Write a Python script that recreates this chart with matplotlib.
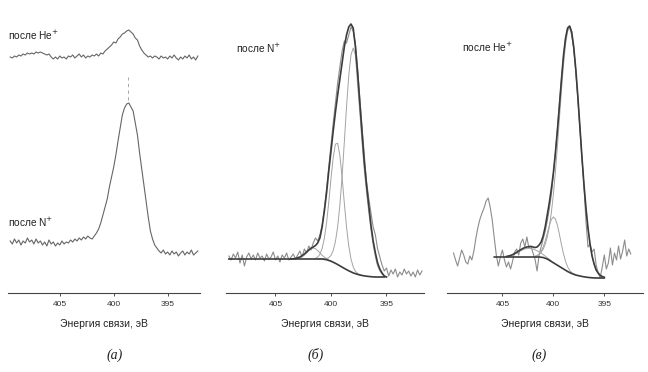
import numpy as np
import matplotlib
matplotlib.use("Agg")
import matplotlib.pyplot as plt

plt.rcParams['font.family'] = ['Liberation Sans', 'DejaVu Sans']

# ---- data (binding energy in eV, intensity in arb. units) ----
STEP = 0.2

# (a) raw N1s spectra, grid starts at 409.6 eV
a_start = 409.6
he_a = [49, 48, 50, 49, 51, 50, 52, 51, 53, 52,
        53, 52, 54, 53, 54, 53, 52, 51, 52, 49,
        47, 49, 47, 50, 48, 49, 47, 50, 49, 51,
        48, 50, 52, 49, 51, 48, 50, 49, 51, 50,
        52, 50, 53, 52, 55, 57, 59, 61, 64, 63,
        67, 69, 72, 73, 75, 76, 74, 72, 68, 66,
        60, 56, 53, 51, 49, 50, 48, 50, 49, 47,
        50, 48, 49, 47, 50, 48, 51, 48, 46, 49,
        47, 50, 48, 51, 47, 49, 46, 50]
n_a = [52, 49, 54, 50, 53, 48, 52, 50, 55, 51,
       53, 49, 54, 50, 52, 48, 51, 47, 53, 49,
       51, 47, 50, 48, 52, 49, 51, 50, 53, 51,
       54, 52, 55, 53, 56, 54, 57, 55, 54, 57,
       60, 64, 70, 78, 86, 94, 106, 116, 126, 138,
       152, 165, 178, 185, 189, 190, 186, 182, 170, 158,
       140, 124, 108, 92, 76, 62, 54, 48, 45, 42,
       40, 43, 39, 41, 38, 42, 39, 41, 37, 40,
       42, 38, 41, 39, 43, 38, 40, 42]
he_offset = 187
peak_a = 398.7

# (b) after N+ : raw, background, three components, envelope
raw_b_start = 409.2
raw_b = [37, 33, 39, 35, 41, 30, 38, 27, 36, 40,
         34, 38, 33, 40, 35, 37, 32, 39, 34, 36,
         41, 33, 37, 31, 38, 35, 40, 33, 36, 39,
         34, 38, 42, 36, 44, 40, 47, 43, 50, 55,
         52, 58, 68, 84, 104, 126, 148, 170, 190, 210,
         226, 242, 252, 250, 258, 266, 262, 250, 224, 194,
         166, 138, 112, 95, 80, 66, 58, 44, 36, 28,
         22, 25, 17, 23, 19, 24, 16, 21, 18, 24,
         19, 22, 17, 21, 16, 23, 18, 22]
bg_b_start = 409.2   # 0.4 eV grid
bg_b = [34, 34, 34, 34, 34, 34, 34, 34, 34, 34,
        34, 34, 34, 34, 34, 34, 34, 34, 34, 34,
        34, 34, 33.3, 31.8, 29.7, 27.2, 24.6, 22.2, 20.1, 18.6,
        17.5, 16.8, 16.3, 16, 16, 16]
c1_b_start = 403.2
c1_b = [34.2, 34.4, 35.0, 36.1, 37.8, 40.1, 42.4, 44.3, 45.0, 44.3,
        42.4, 40.1, 37.8, 35.9, 34.3, 33.0, 32.0]
c2_b_start = 401.4
c2_b = [34.7, 35.9, 38.7, 44.5, 54.5, 70.0, 90.8, 114.4, 135.7, 148.9,
        149.7, 137.5, 115.7, 90.0, 66.1, 47.1, 34.1, 26.2, 21.8, 19.6,
        18.3, 17.6]
c3_b_start = 401.2
c3_b = [34.0, 34.1, 34.2, 34.3, 34.4, 35.3, 37.6, 42.5, 51.5, 66.2,
        87.8, 116.6, 150.6, 186.1, 217.5, 238, 245, 238, 208, 180,
        150, 123, 101, 81, 63, 48, 36, 27, 22, 19,
        17, 16]
env_b_start = 403.6
env_b = [34, 34.2, 34.5, 35.2, 36, 37.4, 39, 41, 43, 44.8,
         46, 47.5, 50, 55, 66, 82, 100, 122, 142, 162,
         181, 198, 214, 230, 246, 258, 266, 269, 265, 246,
         220, 190, 160, 131, 108, 88, 68, 52, 40, 30,
         24, 20, 17, 16]

# (c) after He+
raw_c_start = 409.8
raw_c = [40, 33, 27, 35, 43, 38, 31, 29, 37, 33,
         42, 55, 66, 74, 80, 85, 92, 95, 86, 73,
         55, 38, 27, 36, 43, 33, 26, 31, 24, 32,
         41, 44, 38, 50, 54, 46, 56, 45, 47, 40,
         34, 22, 38, 46, 54, 62, 72, 84, 98, 118,
         140, 164, 190, 214, 236, 255, 264, 266, 258, 244,
         222, 195, 166, 136, 108, 72, 46, 49, 41, 44,
         28, 20, 15, 26, 38, 24, 30, 45, 28, 40,
         33, 47, 34, 42, 53, 37, 44, 39]
bg_c_start = 405.8   # 0.4 eV grid
bg_c = [36, 36, 36, 36, 36, 36, 36, 36, 36, 36,
        36, 36, 35.5, 34, 31.5, 29, 26.5, 24, 21.5, 19.5,
        18, 17, 16.2, 15.6, 15.2, 15, 15, 15]
c1_c_start = 404.6
c1_c = [36.5, 36.8, 37.3, 38.0, 38.9, 39.9, 41.1, 42.2, 43.2, 44.0,
        44.5, 44.7, 44.5, 44.0, 43.2, 42.2, 41.1, 39.7, 38.4, 36.9,
        35.3, 33.8, 32.0]
c2_c_start = 401.8
c2_c = [36.5, 37.2, 38.8, 41.5, 45.9, 52.2, 59.7, 67.3, 73.4, 76.0,
        74.0, 67.7, 58.4, 48.2, 39.0, 31.6, 26.1, 22.7, 20.4, 19.1,
        18.0]
c3_c_start = 401.8
c3_c = [36.7, 37.5, 38.7, 40.7, 43.8, 48.7, 55.8, 66.0, 80.0, 98.4,
        120.9, 147.0, 175.1, 203.1, 228.6, 249.0, 261.6, 265.5, 259.6, 244.9,
        222.6, 195.4, 165.6, 135.8, 108.1, 84.0, 64.1, 48.6, 37.0, 28.8,
        23.3, 19.9, 17.7, 16.5, 15.7]
env_c_start = 404.6
env_c = [36.5, 37, 37.5, 38.4, 39.5, 40.7, 42, 43.3, 44.5, 45.4,
         46, 46.4, 46.5, 46, 45.5, 46, 48, 51, 57, 66,
         78, 90, 104, 120, 140, 163, 188, 214, 238, 255,
         265, 267, 261, 246, 224, 197, 167, 137, 109, 85,
         65, 49, 37, 29, 23, 20, 17.7, 16.5, 15.7]

ticks = [405, 400, 395]
xlabel = 'Энергия связи, эВ'
letters = ['(а)', '(б)', '(в)']


def grid(start, vals, step=STEP):
    return start - step * np.arange(len(vals))


# ---- layout (pixel boxes of the original) ----
W, H = 648, 372
fig = plt.figure(figsize=(W / 100, H / 100), dpi=100)


def box(l, r, top=5, bottom=293):
    return [l / W, 1 - bottom / H, (r - l) / W, (bottom - top) / H]


ax_a = fig.add_axes(box(8, 200))
ax_b = fig.add_axes(box(226, 424))
ax_c = fig.add_axes(box(447, 643))

RAW = '#666666'
RAW_L = '#8c8c8c'
COMP = '#a3a3a3'
DARK = '#3c3c3c'

# (a)
ea = grid(a_start, n_a)
ax_a.plot(ea, np.array(he_a) + he_offset, color=RAW, lw=0.8)
ax_a.plot(ea, n_a, color=RAW, lw=0.8)
ax_a.vlines(peak_a, 193, 216, color='#9a9a9a', lw=0.6, linestyles=(0, (4, 4)))
ax_a.text(0.0, 258, 'после He$^{+}$', transform=ax_a.get_yaxis_transform(),
          fontsize=7.3, va='center', ha='left', color='#222')
ax_a.text(0.0, 71, 'после N$^{+}$', transform=ax_a.get_yaxis_transform(),
          fontsize=7.3, va='center', ha='left', color='#222')
ax_a.set_xlim(409.8, 392.0)

# (b)
ax_b.plot(grid(raw_b_start, raw_b), raw_b, color=RAW_L, lw=0.8)
for start, vals in [(c1_b_start, c1_b), (c2_b_start, c2_b), (c3_b_start, c3_b)]:
    ax_b.plot(grid(start, vals), vals, color=COMP, lw=0.7)
ax_b.plot(grid(bg_b_start, bg_b, 0.4), bg_b, color=DARK, lw=1.2)
ax_b.plot(grid(env_b_start, env_b), env_b, color=DARK, lw=1.2)
ax_b.text(0.05, 245, 'после N$^{+}$', transform=ax_b.get_yaxis_transform(),
          fontsize=7.3, va='center', ha='left', color='#222')
ax_b.set_xlim(409.46, 391.62)

# (c)
ax_c.plot(grid(raw_c_start, raw_c), raw_c, color=RAW_L, lw=0.8)
for start, vals in [(c1_c_start, c1_c), (c2_c_start, c2_c), (c3_c_start, c3_c)]:
    ax_c.plot(grid(start, vals), vals, color=COMP, lw=0.7)
ax_c.plot(grid(bg_c_start, bg_c, 0.4), bg_c, color=DARK, lw=1.2)
ax_c.plot(grid(env_c_start, env_c), env_c, color=DARK, lw=1.2)
ax_c.text(0.077, 246, 'после He$^{+}$', transform=ax_c.get_yaxis_transform(),
          fontsize=7.3, va='center', ha='left', color='#222')
ax_c.set_xlim(410.44, 391.2)

for ax in (ax_a, ax_b, ax_c):
    ax.set_ylim(0, 288)
    for s in ('top', 'left', 'right'):
        ax.spines[s].set_visible(False)
    ax.spines['bottom'].set_color('#444')
    ax.spines['bottom'].set_linewidth(0.8)
    ax.set_yticks([])
    ax.set_xticks(ticks)
    ax.tick_params(axis='x', length=2.5, width=0.6, labelsize=6, pad=3.5,
                   colors='#333')
    ax.set_xlabel(xlabel, fontsize=7.5, labelpad=8, color='#222')
    ax.patch.set_alpha(0)

for x, lab in zip([115, 316, 539], letters):
    fig.text(x / W, 1 - 355 / H, lab, family='Liberation Serif', style='italic',
             fontsize=10, ha='center', va='center', color='#222')

fig.savefig('out.png', dpi=100)
